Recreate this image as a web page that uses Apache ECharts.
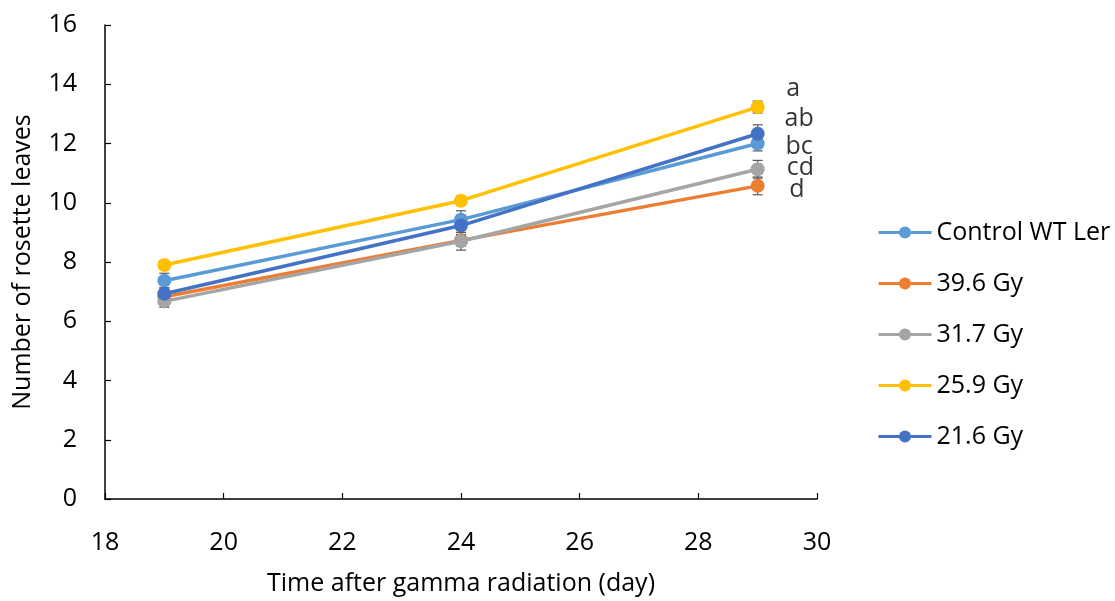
<!DOCTYPE html>
<html><head><meta charset="utf-8">
<script src="https://cdn.jsdelivr.net/npm/echarts@6/dist/echarts.min.js"></script>
<style>html,body{margin:0;padding:0;background:#fff}#c{width:1115px;height:601px}</style>
</head><body><div id="c"></div>
<script>
const days = [19, 24, 29];
const seriesNames = ['Control WT Ler', '39.6 Gy', '31.7 Gy', '25.9 Gy', '21.6 Gy'];
const colors = ['#5B9BD5', '#ED7D31', '#A5A5A5', '#FFC000', '#4472C4'];
const controlWT = [7.37, 9.43, 12.0];
const gy396 = [6.83, 8.73, 10.57];
const gy317 = [6.67, 8.7, 11.13];
const gy259 = [7.9, 10.07, 13.23];
const gy216 = [6.93, 9.23, 12.33];
const errControl = [0.25, 0.3, 0.25];
const err396 = [0.2, 0.2, 0.3];
const err317 = [0.2, 0.3, 0.3];
const err259 = [0.15, 0.15, 0.2];
const err216 = [0.2, 0.35, 0.3];
const letters = ['a', 'ab', 'bc', 'cd', 'd'];
const letterX = [29.6, 29.7, 29.7, 29.72, 29.66];
const letterY = [13.83, 12.83, 11.9, 11.17, 10.43];

const values = [controlWT, gy396, gy317, gy259, gy216];
const errs = [errControl, err396, err317, err259, err216];
const font = 'Open Sans';
const fs = 25;

const series = [];
values.forEach((v, i) => {
  series.push({
    type: 'custom', name: seriesNames[i] + '_err', silent: true, z: 1,
    data: days.map((d, j) => [d, v[j] - errs[i][j], v[j] + errs[i][j]]),
    renderItem: (params, api) => {
      const lo = api.coord([api.value(0), api.value(1)]);
      const hi = api.coord([api.value(0), api.value(2)]);
      const w = 5;
      const st = { stroke: '#595959', lineWidth: 1.2 };
      return { type: 'group', children: [
        { type: 'line', shape: { x1: lo[0], y1: lo[1], x2: hi[0], y2: hi[1] }, style: st },
        { type: 'line', shape: { x1: lo[0]-w, y1: lo[1], x2: lo[0]+w, y2: lo[1] }, style: st },
        { type: 'line', shape: { x1: hi[0]-w, y1: hi[1], x2: hi[0]+w, y2: hi[1] }, style: st }
      ]};
    }
  });
});
values.forEach((v, i) => {
  series.push({
    type: 'line', name: seriesNames[i], z: 2,
    data: days.map((d, j) => [d, v[j]]),
    symbol: 'circle', symbolSize: 14,
    lineStyle: { width: 3.5, color: colors[i] },
    itemStyle: { color: colors[i] },
    emphasis: { disabled: true }
  });
});
series.push({
  type: 'scatter', name: 'letters', symbolSize: 0, z: 3, silent: true,
  data: letters.map((t, i) => ({ value: [letterX[i], letterY[i]], name: t })),
  label: { show: true, position: 'inside', formatter: p => p.name, fontFamily: font, fontSize: fs, color: '#000' }
});

const chart = echarts.init(document.getElementById('c'));
chart.setOption({
  animation: false,
  color: colors,
  grid: { left: 105, right: 298, top: 25, bottom: 98, containLabel: false },
  legend: {
    data: seriesNames.map(n => ({ name: n, itemStyle: {}, lineStyle: { width: 3 } })),
    orient: 'vertical', left: 872, top: 215,
    itemWidth: 53, itemHeight: 15, itemGap: 26,
    textStyle: { fontFamily: font, fontSize: fs, color: '#000' }
  },
  xAxis: {
    type: 'value', min: 18, max: 30, interval: 2,
    name: 'Time after gamma radiation (day)', nameLocation: 'middle', nameGap: 72,
    nameTextStyle: { fontFamily: font, fontSize: fs, color: '#000' },
    axisLine: { lineStyle: { color: '#000', width: 1.5 } },
    axisTick: { inside: true, length: 6, lineStyle: { color: '#000', width: 1.2 } },
    axisLabel: { fontFamily: font, fontSize: fs, color: '#000', margin: 31 },
    splitLine: { show: false }
  },
  yAxis: {
    type: 'value', min: 0, max: 16, interval: 2,
    name: 'Number of rosette leaves', nameLocation: 'middle', nameGap: 70,
    nameTextStyle: { fontFamily: font, fontSize: fs, color: '#000' },
    axisLine: { show: true, lineStyle: { color: '#000', width: 1.5 } },
    axisTick: { show: true, inside: true, length: 6, lineStyle: { color: '#000', width: 1.2 } },
    axisLabel: { fontFamily: font, fontSize: fs, color: '#000', margin: 28 },
    splitLine: { show: false }
  },
  series: series
});
</script></body></html>
